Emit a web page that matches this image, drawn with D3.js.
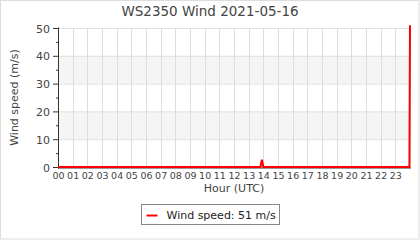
<!DOCTYPE html>
<html>
  <head>
    <style>
      body { margin: 0; background: #fff; }
      text { font-family: "DejaVu Sans", sans-serif; fill: #444; }
    </style>
  </head>

  <body>

    <svg class="surface" width="420" height="240"></svg>

    <script src="https://cdn.jsdelivr.net/npm/d3@7/dist/d3.min.js" charset="utf-8"></script>
    <script>

      // readings (hour of day, m/s)
      const hours = [0, 13.8, 13.9, 14.0, 23.96, 24]
      const speeds = [0, 0, 2.6, 0, 0, 51]
      const hourLabels = d3.range(24).map(h => String(h).padStart(2, '0'))
      const yTicks = [0, 10, 20, 30, 40, 50]
      const bands = [[10, 20], [30, 40]]

      const svg = d3.select('.surface')
      const m = { left: 58, right: 410, top: 28, bottom: 167 }

      const x = d3.scaleLinear().domain([0, 24]).range([m.left, m.right])
      const y = d3.scaleLinear().domain([0, 50]).range([m.bottom, m.top])

      svg.append('rect')
        .attr('x', 0.5).attr('y', 0.5).attr('width', 418.5).attr('height', 238.5)
        .attr('fill', 'none').attr('stroke', '#ddd')

      svg.append('text')
        .attr('x', 210).attr('y', 16)
        .attr('text-anchor', 'middle')
        .style('font-size', '13.5px')
        .text('WS2350 Wind 2021-05-16')

      // shaded bands
      svg.selectAll('.band').data(bands).enter().append('rect')
        .attr('x', m.left).attr('width', m.right - m.left)
        .attr('y', d => y(d[1])).attr('height', d => y(d[0]) - y(d[1]))
        .attr('fill', '#f5f5f5')

      // grid
      svg.selectAll('.hgrid').data(yTicks.slice(1)).enter().append('line')
        .attr('x1', m.left).attr('x2', m.right)
        .attr('y1', d => y(d) + 0.5).attr('y2', d => y(d) + 0.5)
        .attr('stroke', '#e0e0e0')
      svg.selectAll('.vgrid').data(d3.range(1, 25)).enter().append('line')
        .attr('x1', d => Math.round(x(d)) + 0.5).attr('x2', d => Math.round(x(d)) + 0.5)
        .attr('y1', m.top).attr('y2', m.bottom)
        .attr('stroke', '#ddd')

      // y axis
      const yAxis = svg.append('g').attr('transform', `translate(${m.left},0.5)`)
      yAxis.append('line').attr('x1', 0.5).attr('x2', 0.5).attr('y1', m.top - 1).attr('y2', m.bottom + 1).attr('stroke', '#333')
      yAxis.selectAll('.minor').data(d3.range(0, 51, 5)).enter().append('line')
        .attr('x1', d => d % 10 ? -2 : -5).attr('x2', 0)
        .attr('y1', d => y(d)).attr('y2', d => y(d))
        .attr('stroke', '#333')
      yAxis.selectAll('text').data(yTicks).enter().append('text')
        .attr('x', -8).attr('y', d => y(d) + 4)
        .attr('text-anchor', 'end')
        .style('font-size', '11px')
        .text(d => d)

      // x axis
      svg.append('line')
        .attr('x1', m.left).attr('x2', m.right + 1)
        .attr('y1', m.bottom + 1).attr('y2', m.bottom + 1)
        .attr('stroke', '#333').attr('stroke-width', 1.2)
      svg.selectAll('.xlab').data(hourLabels).enter().append('text')
        .attr('x', (d, i) => x(i) + 0.5).attr('y', m.bottom + 12)
        .attr('text-anchor', 'middle')
        .style('font-size', '9.5px')
        .text(d => d)

      svg.append('text')
        .attr('x', 234).attr('y', 192)
        .attr('text-anchor', 'middle')
        .style('font-size', '11px')
        .text('Hour (UTC)')

      svg.append('text')
        .attr('transform', `translate(18,${(m.top + m.bottom) / 2}) rotate(-90)`)
        .attr('text-anchor', 'middle')
        .style('font-size', '11px')
        .text('Wind speed (m/s)')

      // series
      const line = d3.line().x(d => x(d[0])).y(d => y(d[1]))
      svg.append('path')
        .datum(d3.zip(hours, speeds))
        .attr('d', line)
        .attr('fill', 'none')
        .attr('stroke', '#f00')
        .attr('stroke-width', 2)

      // legend
      const lg = svg.append('g').attr('transform', 'translate(141.5,204.5)')
      lg.append('rect').attr('width', 138).attr('height', 20).attr('fill', '#fff').attr('stroke', '#888')
      lg.append('line').attr('x1', 5).attr('x2', 16).attr('y1', 11).attr('y2', 11).attr('stroke', '#f00').attr('stroke-width', 2)
      lg.append('text').attr('x', 25).attr('y', 14.5).style('font-size', '11px').style('fill', '#222')
        .text('Wind speed: ' + d3.max(speeds) + ' m/s')

    </script>
  </body>

</html>
